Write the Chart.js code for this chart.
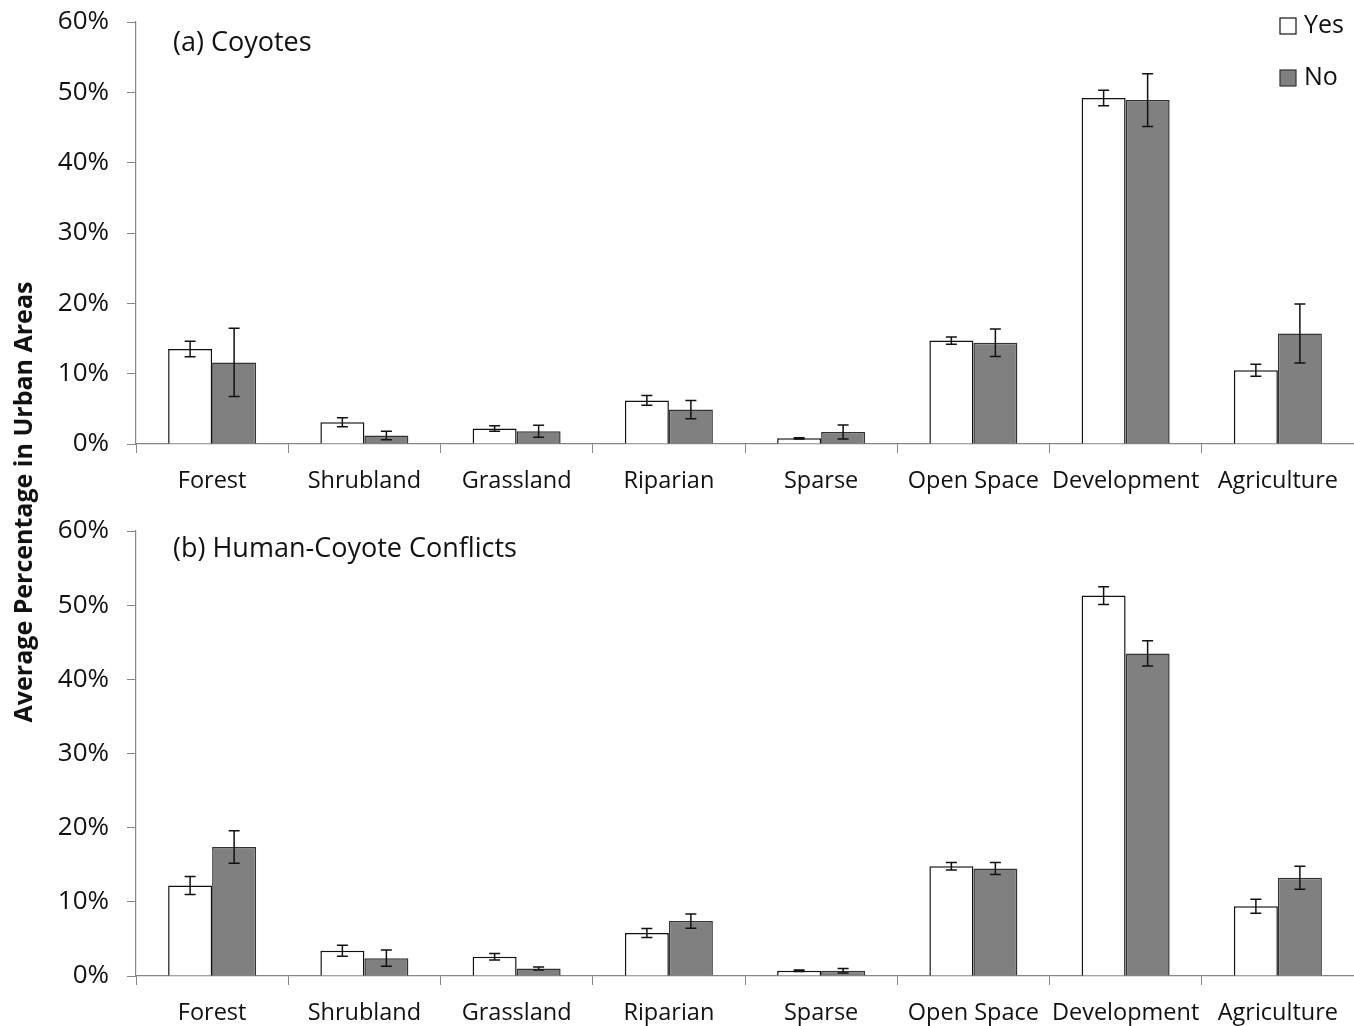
<!DOCTYPE html>
<html>
<head>
<meta charset="utf-8">
<script src="https://cdn.jsdelivr.net/npm/chart.js@4"></script>
<style>
  body { margin: 0; background: #fff; }
  #wrap { position: relative; width: 1354px; height: 1026px; }
  canvas { position: absolute; left: 0; }
  #ytitle {
    position: absolute; left: -278px; top: 487px; width: 600px;
    text-align: center; font: bold 25px "Open Sans", sans-serif; color: #111;
    transform: rotate(-90deg); line-height: 30px;
  }
</style>
</head>
<body>
<div id="wrap">
  <canvas id="chartA" width="1354" height="505" style="top:0"></canvas>
  <canvas id="chartB" width="1354" height="521" style="top:505px"></canvas>
  <div id="ytitle">Average Percentage in Urban Areas</div>
</div>
<script>
var categories = ['Forest', 'Shrubland', 'Grassland', 'Riparian', 'Sparse', 'Open Space', 'Development', 'Agriculture'];
var seriesNames = ['Yes', 'No'];
var yTicks = [0, 10, 20, 30, 40, 50, 60];

// (a) Coyotes
var coyoteYes = [13.5, 3.1, 2.2, 6.2, 0.8, 14.7, 49.2, 10.5];
var coyoteNo = [11.6, 1.2, 1.8, 4.9, 1.7, 14.4, 48.9, 15.7];
var coyoteYesErr = [1.1, 0.65, 0.4, 0.7, 0.1, 0.5, 1.1, 0.85];
var coyoteNoErr = [4.85, 0.6, 0.85, 1.3, 1.0, 1.95, 3.75, 4.2];

// (b) Human-Coyote Conflicts
var conflictYes = [12.2, 3.4, 2.6, 5.8, 0.7, 14.8, 51.3, 9.4];
var conflictNo = [17.4, 2.4, 1.0, 7.4, 0.7, 14.5, 43.5, 13.25];
var conflictYesErr = [1.2, 0.75, 0.45, 0.6, 0.1, 0.5, 1.2, 0.95];
var conflictNoErr = [2.2, 1.1, 0.2, 0.95, 0.3, 0.8, 1.7, 1.55];

var FONT = '"Open Sans", sans-serif';
var AXIS_GREY = '#868686';

// error bars + panel label + legend
var extrasPlugin = {
    id: 'extras',
    afterDatasetsDraw: function(chart, args, opts) {
        var ctx = chart.ctx;
        var y = chart.scales.y;
        ctx.save();
        ctx.strokeStyle = '#111';
        ctx.lineWidth = 1.5;
        chart.data.datasets.forEach(function(ds, di) {
            var meta = chart.getDatasetMeta(di);
            meta.data.forEach(function(bar, i) {
                var e = ds.errors[i];
                var top = y.getPixelForValue(ds.data[i] + e);
                var bot = y.getPixelForValue(ds.data[i] - e);
                ctx.beginPath();
                ctx.moveTo(bar.x, top); ctx.lineTo(bar.x, bot);
                ctx.moveTo(bar.x - 5.5, top); ctx.lineTo(bar.x + 5.5, top);
                ctx.moveTo(bar.x - 5.5, bot); ctx.lineTo(bar.x + 5.5, bot);
                ctx.stroke();
            });
        });
        ctx.fillStyle = '#111';
        ctx.font = '27px ' + FONT;
        ctx.textBaseline = 'middle';
        ctx.fillText(opts.label, 173, opts.labelY);
        if (opts.legend) {
            ctx.font = '25px ' + FONT;
            chart.data.datasets.forEach(function(ds, di) {
                var ly = 26 + di * 52;
                ctx.fillStyle = ds.backgroundColor;
                ctx.strokeStyle = ds.borderColor;
                ctx.lineWidth = 1.2;
                ctx.fillRect(1280, ly - 8, 16, 16);
                ctx.strokeRect(1280, ly - 8, 16, 16);
                ctx.fillStyle = '#111';
                ctx.fillText(ds.label, 1304, ly);
            });
        }
        ctx.restore();
    }
};

function makeChart(id, yes, no, yesErr, noErr, label, labelY, padTop, xHeight, legend) {
    return new Chart(document.getElementById(id), {
        type: 'bar',
        data: {
            labels: categories,
            datasets: [{
                label: seriesNames[0],
                data: yes,
                errors: yesErr,
                backgroundColor: '#ffffff',
                borderColor: '#111111',
                borderWidth: 1.5
            }, {
                label: seriesNames[1],
                data: no,
                errors: noErr,
                backgroundColor: '#808080',
                borderColor: '#333333',
                borderWidth: 1.5
            }]
        },
        options: {
            responsive: false,
            animation: false,
            devicePixelRatio: 1,
            categoryPercentage: 0.578,
            barPercentage: 1.0,
            layout: { padding: { top: padTop, left: 0, right: 0, bottom: 0 } },
            plugins: {
                legend: { display: false },
                tooltip: { enabled: false },
                extras: { label: label, labelY: labelY, legend: legend }
            },
            scales: {
                x: {
                    grid: { offset: true, drawOnChartArea: false, tickLength: 9, color: AXIS_GREY },
                    border: { color: AXIS_GREY, width: 1.2 },
                    ticks: { font: { family: FONT, size: 23.5 }, color: '#111', padding: 14, maxRotation: 0 },
                    afterFit: function(scale) {
                        scale.height = xHeight;
                        scale.paddingLeft = 0;
                        scale.paddingRight = 0;
                    }
                },
                y: {
                    min: 0,
                    max: 60,
                    afterBuildTicks: function(scale) {
                        scale.ticks = yTicks.map(function(v) { return { value: v }; });
                    },
                    grid: { drawOnChartArea: false, tickLength: 9, color: AXIS_GREY },
                    border: { color: AXIS_GREY, width: 1.2 },
                    ticks: {
                        font: { family: FONT, size: 26 },
                        color: '#111',
                        padding: 18,
                        callback: function(v) { return v + '%'; }
                    },
                    afterFit: function(scale) {
                        scale.width = 136;
                        scale.paddingTop = 0;
                        scale.paddingBottom = 0;
                    }
                }
            }
        },
        plugins: [extrasPlugin]
    });
}

makeChart('chartA', coyoteYes, coyoteNo, coyoteYesErr, coyoteNoErr, '(a) Coyotes', 43, 22, 61, true);
makeChart('chartB', conflictYes, conflictNo, conflictYesErr, conflictNoErr, '(b) Human-Coyote Conflicts', 44, 26, 50, false);
</script>
</body>
</html>
